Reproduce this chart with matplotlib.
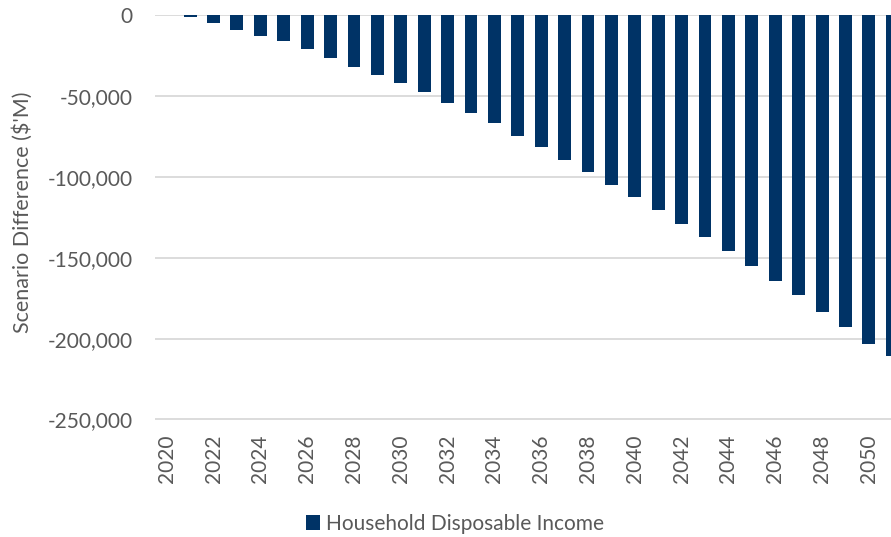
import matplotlib
matplotlib.use("Agg")
import matplotlib.pyplot as plt
from matplotlib.ticker import FuncFormatter, MultipleLocator
from matplotlib.patches import Patch

years = list(range(2020, 2052))
household_disposable_income = [
    0, -1050, -5100, -9100, -13000, -16300, -21000, -26600, -32100, -36900,
    -42200, -47800, -54200, -60700, -66900, -75000, -81800, -89800, -97200,
    -104900, -112700, -120700, -129300, -137400, -146000, -154900, -164400,
    -173000, -183400, -192800, -203300, -210900,
]
series_name = "Household Disposable Income"
y_label = "Scenario Difference ($'M)"

plt.rcParams["font.family"] = ["Lato", "DejaVu Sans"]
W, H = 891, 537
fig = plt.figure(figsize=(W / 100, H / 100), dpi=100)
# plot area runs past the right edge of the canvas
left, right, top, bottom = 155, 904, 15, 419.5
ax = fig.add_axes([left / W, 1 - bottom / H, (right - left) / W, (bottom - top) / H])

bar_color = "#003366"
text_color = "#595959"
x = list(range(len(years)))
ax.bar(x, household_disposable_income, width=0.55, color=bar_color, zorder=3)

ax.set_xlim(-0.5, len(years) - 0.5)
ax.yaxis.set_major_locator(MultipleLocator(50000))
ax.yaxis.set_major_formatter(FuncFormatter(lambda v, p: "0" if v == 0 else f"{v:,.0f}"))
ax.grid(axis="y", color="#d9d9d9", linewidth=1.3, zorder=0)
ax.set_axisbelow(True)
ax.set_ylim(-250000, 0)

ax.set_xticks(x[::2])
ax.set_xticklabels([str(y) for y in years[::2]], rotation=90)
ax.tick_params(axis="x", length=0, pad=11, labelsize=15, labelcolor=text_color)
ax.tick_params(axis="y", length=0, pad=16, labelsize=15, labelcolor=text_color)

for s in ax.spines.values():
    s.set_visible(False)

ax.set_ylabel(y_label, fontsize=15.5, color=text_color)
ax.yaxis.set_label_coords(23 / W, 1 - 212 / H, transform=fig.transFigure)
ax.yaxis.label.set_va("center")

fig.legend(handles=[Patch(facecolor=bar_color, label=series_name)],
           loc="center", bbox_to_anchor=(455 / W, 1 - 524 / H), frameon=False,
           fontsize=15, labelcolor=text_color, handlelength=0.7, handleheight=0.7,
           handletextpad=0.3)

fig.savefig("out.png", dpi=100)
